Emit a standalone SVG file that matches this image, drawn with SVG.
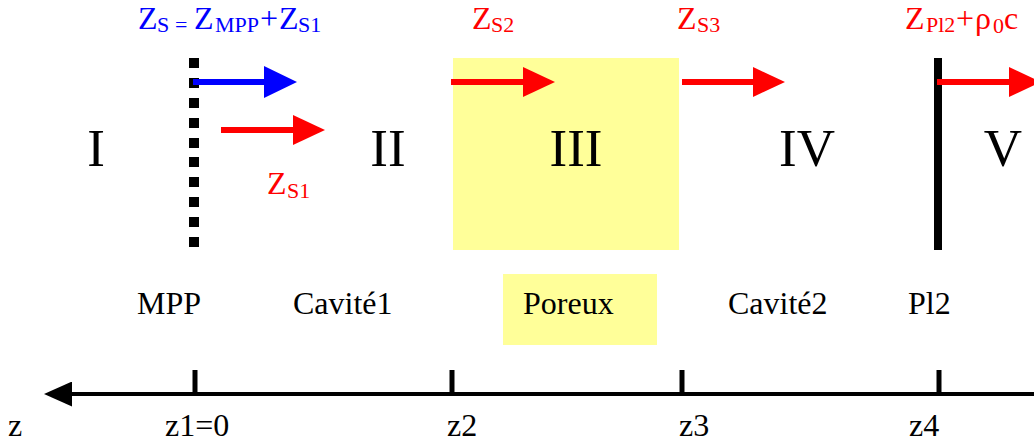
<svg xmlns="http://www.w3.org/2000/svg" width="1034" height="441" viewBox="0 0 1034 441">
  <style>
    text { font-family: "Liberation Serif", "Times New Roman", serif; }
    .num { font-size: 53px; fill: #000; text-anchor: middle; }
    .lbl { font-size: 32px; fill: #000; }
    .big { font-size: 32px; }
    .sub { font-size: 22px; }
    .red { fill: #ff0000; }
    .blue { fill: #0000ff; }
    .aline { stroke-width: 6; fill: none; }
    .tick { stroke: #000; stroke-width: 5; }
    .yellow { fill: #ffff99; }
  </style>
  <defs>
    <marker id="headRed" markerUnits="userSpaceOnUse" viewBox="0 0 32 30" refX="1" refY="15" markerWidth="32" markerHeight="30" orient="auto">
      <path d="M0,0 L32,15 L0,30 Z" fill="#ff0000"/>
    </marker>
    <marker id="headBlue" markerUnits="userSpaceOnUse" viewBox="0 0 33 32" refX="1" refY="16" markerWidth="33" markerHeight="32" orient="auto">
      <path d="M0,0 L33,16 L0,32 Z" fill="#0000ff"/>
    </marker>
    <marker id="headAxis" markerUnits="userSpaceOnUse" viewBox="0 0 28 25" refX="1" refY="12.5" markerWidth="28" markerHeight="25" orient="auto">
      <path d="M0,0 L28,12.5 L0,25 Z" fill="#000"/>
    </marker>
  </defs>

  <!-- Region III (porous) -->
  <g id="region-III">
    <rect class="yellow" x="453" y="58" width="226" height="192"/>
    <text class="num" x="576" y="166">III</text>
  </g>

  <g id="region-I"><text class="num" x="96" y="166">I</text></g>
  <g id="region-II"><text class="num" x="388" y="166">II</text></g>
  <g id="region-IV"><text class="num" x="807" y="166">IV</text></g>
  <g id="region-V"><text class="num" x="1003" y="166">V</text></g>

  <!-- MPP dotted wall -->
  <g id="wall-MPP" fill="#000">
    <rect x="189" y="58" width="10" height="10"/>
    <rect x="189" y="78" width="10" height="10"/>
    <rect x="189" y="98" width="10" height="10"/>
    <rect x="189" y="118" width="10" height="10"/>
    <rect x="189" y="138" width="10" height="10"/>
    <rect x="189" y="157" width="10" height="10"/>
    <rect x="189" y="177" width="10" height="10"/>
    <rect x="189" y="197" width="10" height="10"/>
    <rect x="189" y="217" width="10" height="10"/>
    <rect x="189" y="237" width="10" height="10"/>
  </g>

  <!-- Pl2 plate -->
  <g id="wall-Pl2">
    <rect x="934" y="58" width="8" height="192" fill="#000"/>
  </g>

  <!-- Bottom labels -->
  <g id="label-MPP"><text class="lbl" x="137" y="314">MPP</text></g>
  <g id="label-cavite1"><text class="lbl" x="293" y="314">Cavité1</text></g>
  <g id="label-poreux">
    <rect class="yellow" x="503" y="274" width="154" height="71"/>
    <text class="lbl" x="523" y="314">Poreux</text>
  </g>
  <g id="label-cavite2"><text class="lbl" x="728" y="314">Cavité2</text></g>
  <g id="label-Pl2"><text class="lbl" x="908" y="314">Pl2</text></g>

  <!-- Impedance labels -->
  <g id="imp-ZS" class="blue">
    <text>
      <tspan class="big" x="138" y="29">Z</tspan><tspan class="sub" x="157" y="32">S</tspan><tspan class="sub" x="175" y="32">=</tspan><tspan class="big" x="194" y="29">Z</tspan><tspan class="sub" x="215" y="32">MPP</tspan><tspan class="big" x="260" y="29">+</tspan><tspan class="big" x="279" y="29">Z</tspan><tspan class="sub" x="298" y="32">S1</tspan>
    </text>
  </g>
  <g id="imp-ZS1" class="red">
    <text><tspan class="big" x="267" y="194">Z</tspan><tspan class="sub" x="287" y="198">S1</tspan></text>
  </g>
  <g id="imp-ZS2" class="red">
    <text><tspan class="big" x="472" y="29">Z</tspan><tspan class="sub" x="491" y="32">S2</tspan></text>
  </g>
  <g id="imp-ZS3" class="red">
    <text><tspan class="big" x="677" y="29">Z</tspan><tspan class="sub" x="697" y="32">S3</tspan></text>
  </g>
  <g id="imp-ZPl2" class="red">
    <text><tspan class="big" x="905" y="29">Z</tspan><tspan class="sub" x="926" y="32">Pl2</tspan><tspan class="big" x="956" y="29">+</tspan><tspan class="big" x="975" y="29">ρ</tspan><tspan class="sub" x="993" y="33">0</tspan><tspan class="big" x="1004" y="29">c</tspan></text>
  </g>

  <!-- Connectors (arrows) -->
  <g id="connectors">
    <line class="aline" x1="193" y1="82" x2="265" y2="82" stroke="#0000ff" marker-end="url(#headBlue)"/>
    <line class="aline" x1="221" y1="130" x2="294" y2="130" stroke="#ff0000" marker-end="url(#headRed)"/>
    <line class="aline" x1="451" y1="82" x2="524" y2="82" stroke="#ff0000" marker-end="url(#headRed)"/>
    <line class="aline" x1="682" y1="82" x2="754" y2="82" stroke="#ff0000" marker-end="url(#headRed)"/>
    <line class="aline" x1="937" y1="82" x2="1010" y2="82" stroke="#ff0000" marker-end="url(#headRed)"/>
  </g>

  <!-- z axis -->
  <g id="axis">
    <line x1="1034" y1="394" x2="71" y2="394" stroke="#000" stroke-width="4" marker-end="url(#headAxis)"/>
    <line class="tick" x1="195" y1="370" x2="195" y2="394"/>
    <line class="tick" x1="452" y1="370" x2="452" y2="394"/>
    <line class="tick" x1="682" y1="370" x2="682" y2="394"/>
    <line class="tick" x1="939" y1="370" x2="939" y2="394"/>
    <text class="lbl" x="8" y="436">z</text>
    <text class="lbl" x="165" y="436">z1=0</text>
    <text class="lbl" x="447" y="436">z2</text>
    <text class="lbl" x="679" y="436">z3</text>
    <text class="lbl" x="909" y="436">z4</text>
  </g>
</svg>
